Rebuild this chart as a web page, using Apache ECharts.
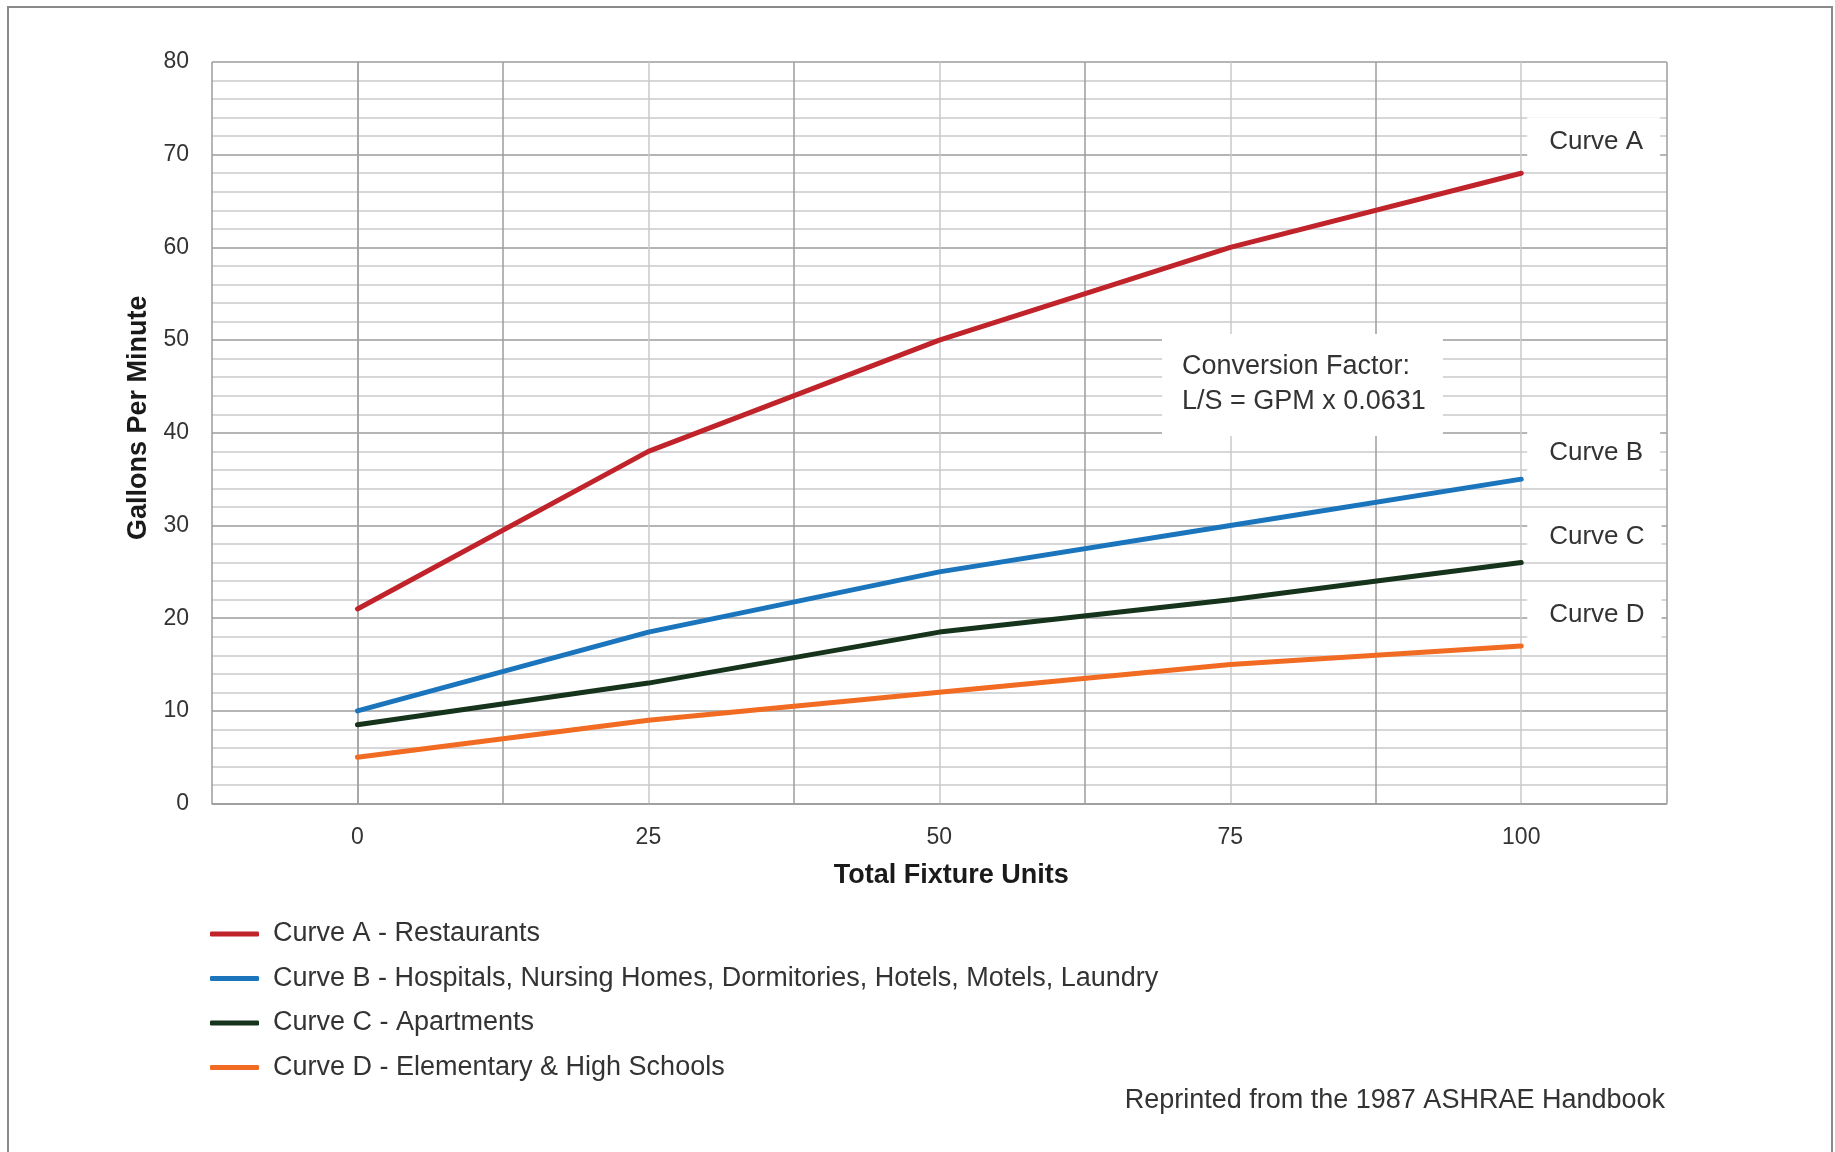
<!DOCTYPE html>
<html><head><meta charset="utf-8">
<script src="https://cdn.jsdelivr.net/npm/echarts@6/dist/echarts.min.js"></script>
<style>html,body{margin:0;padding:0;background:#fff}#c{width:1835px;height:1152px}</style>
</head><body><div id="c"></div>
<script>
// ---- data ----
const xValues = [0, 25, 50, 75, 100];
const curveA = [21, 38, 50, 60, 68];
const curveB = [10, 18.5, 25, 30, 35];
const curveC = [8.5, 13, 18.5, 22, 26];
const curveD = [5, 9, 12, 15, 17];
const seriesNames = [
  'Curve A - Restaurants',
  'Curve B - Hospitals, Nursing Homes, Dormitories, Hotels, Motels, Laundry',
  'Curve C - Apartments',
  'Curve D - Elementary & High Schools'
];
const endLabels = ['Curve A', 'Curve B', 'Curve C', 'Curve D'];
const xTickLabels = [0, 25, 50, 75, 100];
const noteLines = ['Conversion Factor:', 'L/S = GPM x 0.0631'];
const sourceText = 'Reprinted from the 1987 ASHRAE Handbook';
const xTitle = 'Total Fixture Units';
const yTitle = 'Gallons Per Minute';

// ---- styling ----
const FONT = 'Liberation Sans, Arial, sans-serif';
const TXT = '#333333';
const colors = ['#c1232b', '#1b75bc', '#16331c', '#f26b22'];
const labelOffsets = [[0, -31], [0, -26], [0, -26], [0, -31]];
const curves = [curveA, curveB, curveC, curveD];

const chart = echarts.init(document.getElementById('c'), null, {renderer: 'canvas'});

const series = curves.map((vals, i) => ({
  name: seriesNames[i],
  type: 'line',
  data: xValues.map((x, j) => [x, vals[j]]),
  showSymbol: false,
  symbol: 'none',
  color: colors[i],
  lineStyle: {width: 5, color: colors[i], cap: 'round', join: 'round'},
  z: 5,
  endLabel: {
    show: true,
    formatter: endLabels[i],
    distance: 6,
    offset: labelOffsets[i],
    fontFamily: FONT,
    fontSize: 26,
    color: TXT,
    lineHeight: 30,
    backgroundColor: '#ffffff',
    padding: [10, 17, 10, 22]
  }
}));

chart.setOption({
  animation: false,
  backgroundColor: '#ffffff',
  grid: {left: 212, top: 62, width: 1454.7, height: 741.6, containLabel: false},
  xAxis: {
    type: 'value',
    min: -12.5, max: 112.5, interval: 12.5,
    name: xTitle,
    nameLocation: 'middle',
    nameGap: 58,
    nameTextStyle: {fontFamily: FONT, fontSize: 27, fontWeight: 'bold', color: '#1a1a1a', padding: [0, 0, 0, 24]},
    axisLine: {show: true, lineStyle: {color: '#999999', width: 1.5}},
    axisTick: {show: false},
    axisLabel: {
      fontFamily: FONT, fontSize: 23, color: TXT, margin: 23,
      formatter: v => (xTickLabels.indexOf(v) >= 0 ? String(v) : '')
    },
    splitLine: {show: true, lineStyle: {color: ['#9c9c9c', '#cacacd'], width: 1.5}}
  },
  yAxis: {
    type: 'value',
    min: 0, max: 80, interval: 10,
    name: yTitle,
    nameLocation: 'middle',
    nameGap: 60,
    nameTextStyle: {fontFamily: FONT, fontSize: 27, fontWeight: 'bold', color: '#1a1a1a', padding: [0, 0, 0, 30]},
    axisLine: {show: true, lineStyle: {color: '#999999', width: 1.5}},
    axisTick: {show: false},
    axisLabel: {fontFamily: FONT, fontSize: 23, color: TXT, margin: 23},
    splitLine: {show: true, lineStyle: {color: '#9c9c9c', width: 1.5}},
    minorTick: {show: false, splitNumber: 5},
    minorSplitLine: {show: true, lineStyle: {color: '#cacacd', width: 1.5}}
  },
  legend: {
    orient: 'vertical',
    left: 210, top: 919,
    padding: 0,
    itemWidth: 49, itemHeight: 5,
    itemGap: 14.5,
    icon: 'roundRect',
    selectedMode: false,
    data: seriesNames,
    textStyle: {fontFamily: FONT, fontSize: 27, color: TXT, lineHeight: 30, padding: [0, 0, 0, 9]}
  },
  graphic: [
    {
      type: 'rect', z: 0, silent: true,
      shape: {x: 8, y: 7, width: 1824, height: 1160},
      style: {fill: 'none', stroke: '#8a8a8a', lineWidth: 2}
    },
    {
      type: 'text', z: 100, left: 1162, top: 334,
      style: {
        text: noteLines.join('\n'),
        font: '27px ' + FONT,
        fill: TXT,
        lineHeight: 35,
        backgroundColor: '#ffffff',
        padding: [15, 17, 17, 20]
      }
    },
    {
      type: 'text', z: 100, x: 1665, y: 1101,
      style: {
        text: sourceText,
        font: '27px ' + FONT,
        fill: TXT,
        align: 'right',
        verticalAlign: 'middle'
      }
    }
  ],
  series: series
});
</script></body></html>
